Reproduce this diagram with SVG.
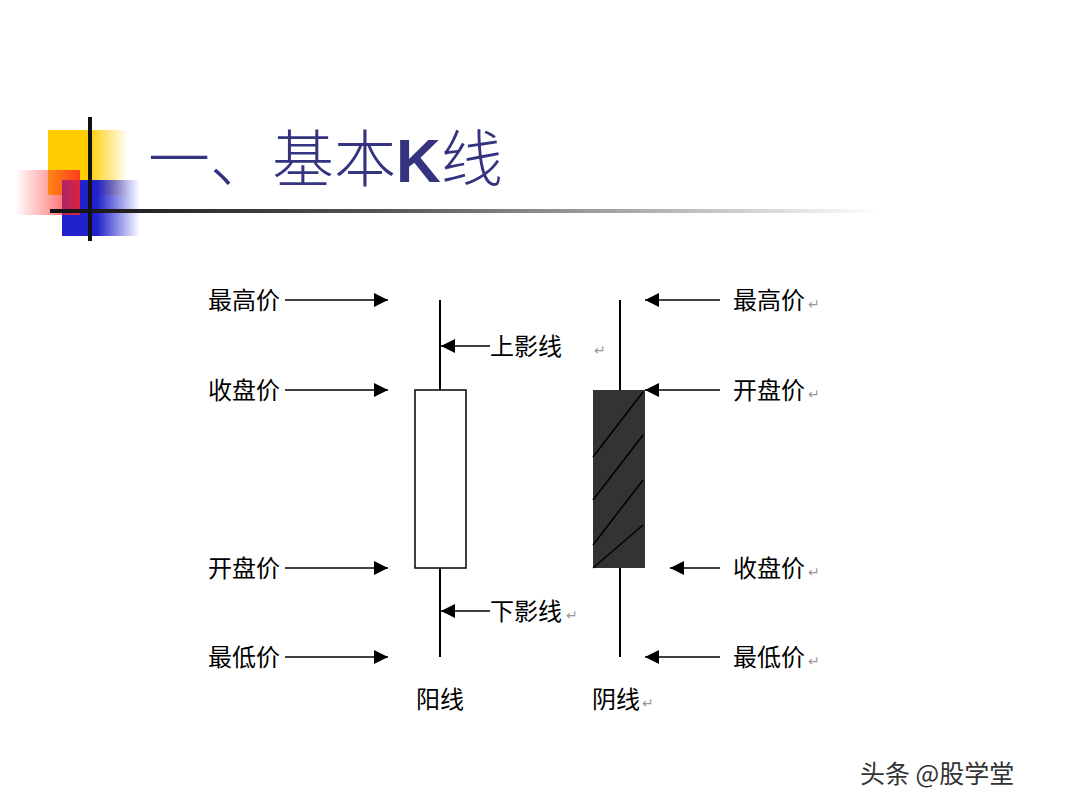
<svg xmlns="http://www.w3.org/2000/svg" width="1080" height="810" viewBox="0 0 1080 810">
<defs>
<linearGradient id="gy" x1="0" x2="1"><stop offset="0.5" stop-color="#ffcc00"/><stop offset="1" stop-color="#ffcc00" stop-opacity="0"/></linearGradient>
<linearGradient id="gr" x1="0" x2="1"><stop offset="0" stop-color="#ff3333" stop-opacity="0"/><stop offset="1" stop-color="#ff2222"/></linearGradient>
<linearGradient id="gb" x1="0" x2="1"><stop offset="0.45" stop-color="#2222cc"/><stop offset="1" stop-color="#2222cc" stop-opacity="0"/></linearGradient>
<linearGradient id="gl" x1="0" x2="1"><stop offset="0" stop-color="#111"/><stop offset="0.4" stop-color="#555"/><stop offset="1" stop-color="#fff"/></linearGradient>
<marker id="ah" viewBox="0 0 10 10" refX="10" refY="5" markerWidth="16" markerHeight="14" markerUnits="userSpaceOnUse" orient="auto"><path d="M0,0L10,5L0,10z" fill="#000"/></marker>
<style>
.l{font-family:"Noto Sans CJK SC",sans-serif;font-size:24px;fill:#000}
.r{font-family:"DejaVu Sans",sans-serif;font-size:14px;fill:#999}
.a{stroke:#000;stroke-width:1.5;marker-end:url(#ah)}
.w{stroke:#000;stroke-width:2}
</style>
</defs>
<rect width="1080" height="810" fill="#fff"/>
<g id="deco">
<rect x="48" y="130" width="80" height="65" fill="url(#gy)"/>
<rect x="62" y="180" width="78" height="56" fill="url(#gb)"/>
<rect x="15" y="170" width="65" height="45" fill="url(#gr)" opacity="0.85"/>
<rect x="50" y="209" width="830" height="4" fill="url(#gl)"/>
<rect x="88" y="117" width="4" height="124" fill="#111"/>
</g>
<g id="title">
<text x="148" y="182" font-family="Noto Sans CJK SC, serif" font-size="62" font-weight="300" fill="#333380">一、基本<tspan font-family="Liberation Sans, sans-serif" font-weight="bold">K</tspan>线</text>
</g>
<g id="yang">
<line class="w" x1="440" y1="300" x2="440" y2="657"/>
<rect x="415" y="390" width="51" height="178" fill="#fff" stroke="#000" stroke-width="1.5"/>
<text class="l" x="440" y="708" text-anchor="middle">阳线</text>
</g>
<g id="yin">
<line class="w" x1="620" y1="300" x2="620" y2="657"/>
<rect x="593" y="390" width="52" height="178" fill="#333"/>
<g stroke="#000" stroke-width="1.5"><line x1="593" y1="457" x2="643" y2="392"/><line x1="593" y1="500" x2="643" y2="435"/><line x1="593" y1="545" x2="643" y2="480"/><line x1="593" y1="568" x2="643" y2="525"/></g>
<text class="l" x="592" y="708">阴线</text><text class="r" x="642" y="708">↵</text>
</g>
<g id="connectors">
<line class="a" x1="285" y1="300" x2="388" y2="300"/>
<line class="a" x1="285" y1="390" x2="388" y2="390"/>
<line class="a" x1="285" y1="568" x2="388" y2="568"/>
<line class="a" x1="285" y1="657" x2="388" y2="657"/>
<line class="a" x1="490" y1="346" x2="441" y2="346"/>
<line class="a" x1="490" y1="611" x2="441" y2="611"/>
<line class="a" x1="720" y1="300" x2="645" y2="300"/>
<line class="a" x1="720" y1="390" x2="645" y2="390"/>
<line class="a" x1="720" y1="568" x2="670" y2="568"/>
<line class="a" x1="720" y1="657" x2="645" y2="657"/>
</g>
<g id="labels">
<text class="l" x="208" y="309">最高价</text>
<text class="l" x="208" y="399">收盘价</text>
<text class="l" x="208" y="577">开盘价</text>
<text class="l" x="208" y="666">最低价</text>
<text class="l" x="490" y="355">上影线</text><text class="r" x="594" y="355">↵</text>
<text class="l" x="490" y="620">下影线</text><text class="r" x="566" y="620">↵</text>
<text class="l" x="733" y="309">最高价</text><text class="r" x="808" y="309">↵</text>
<text class="l" x="733" y="399">开盘价</text><text class="r" x="808" y="399">↵</text>
<text class="l" x="733" y="577">收盘价</text><text class="r" x="808" y="577">↵</text>
<text class="l" x="733" y="666">最低价</text><text class="r" x="808" y="666">↵</text>
</g>
<text x="860" y="783" font-family="Noto Sans CJK SC, sans-serif" font-size="25" fill="#333">头条 @股学堂</text>
</svg>
